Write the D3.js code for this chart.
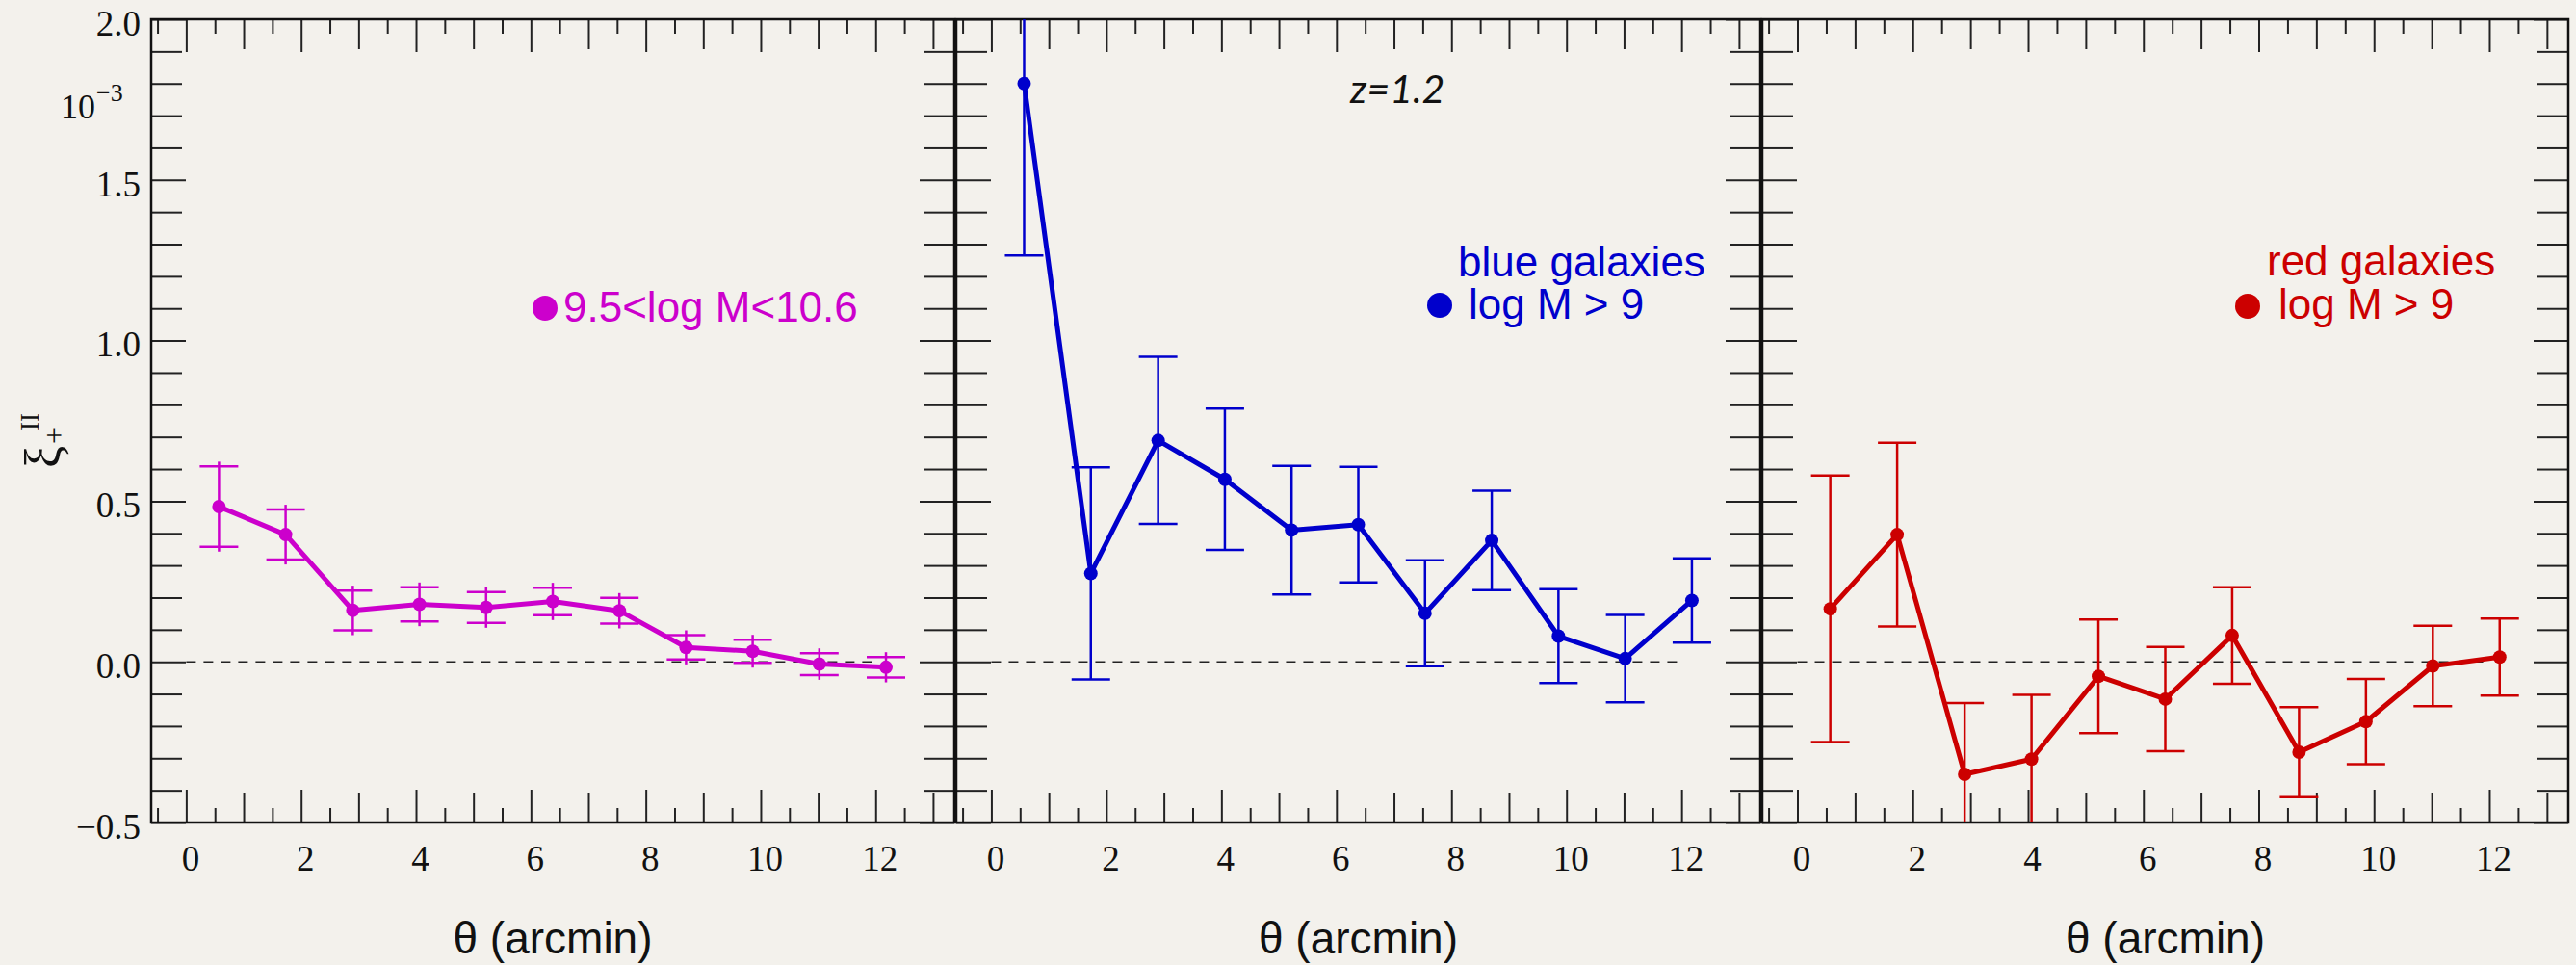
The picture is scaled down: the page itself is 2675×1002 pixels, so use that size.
<!DOCTYPE html>
<html><head><meta charset="utf-8">
<script src="https://cdn.jsdelivr.net/npm/d3@7"></script>
<style>html,body{margin:0;padding:0;background:#f3f1ec;} svg{display:block;}</style>
</head><body><svg id="c" width="2675" height="1002"></svg>
<script>
// ---------- data ----------
const theta = [0.57, 1.73, 2.90, 4.06, 5.22, 6.38, 7.54, 8.70, 9.86, 11.02, 12.18];
const xiMid  = [0.483, 0.396, 0.160, 0.179, 0.169, 0.188, 0.159, 0.045, 0.033, -0.007, -0.017];
const errMid = [0.125, 0.078, 0.062, 0.053, 0.048, 0.043, 0.040, 0.038, 0.036, 0.034, 0.032];
const xiBlue  = [1.80, 0.275, 0.689, 0.568, 0.410, 0.427, 0.151, 0.378, 0.080, 0.010, 0.191];
const errBlue = [0.535, 0.330, 0.260, 0.220, 0.200, 0.180, 0.165, 0.155, 0.146, 0.136, 0.131];
const xiRed  = [0.165, 0.396, -0.350, -0.303, -0.045, -0.116, 0.082, -0.281, -0.186, -0.013, 0.015];
const errRed = [0.415, 0.286, 0.222, 0.200, 0.177, 0.162, 0.150, 0.140, 0.133, 0.125, 0.120];
const xTickLabels = [0, 2, 4, 6, 8, 10, 12];
const yTickLabels = [-0.5, 0.0, 0.5, 1.0, 1.5, 2.0];
const legendMid  = ["9.5<log M<10.6"];
const legendBlue = ["blue galaxies", "log M > 9"];
const legendRed  = ["red galaxies", "log M > 9"];
const xTitle = "θ (arcmin)";
const redshiftLabel = "z=1.2";

// ---------- layout ----------
const svg = d3.select("#c");
svg.append("rect").attr("width", 2675).attr("height", 1002).attr("fill", "#f3f1ec");
const TOP = 20, BOTTOM = 854;
const y = d3.scaleLinear().domain([-0.5, 2.0]).range([BOTTOM, TOP]);
const xDomain = [-0.61, 13.37];

const panels = [
  {values: xiMid, errors: errMid, color: "#cc00cc", l: 157, r: 991, ext: 5,
   legend: legendMid, legendLayout: {dot: [566, 320], lines: [[585, 334]]}},
  {values: xiBlue, errors: errBlue, color: "#0000cc", l: 993, r: 1828, ext: 0,
   legend: legendBlue, legendLayout: {dot: [1495, 317], lines: [[1514, 287], [1525, 331]]}},
  {values: xiRed, errors: errRed, color: "#cc0000", l: 1830, r: 2667, ext: 0,
   legend: legendRed, legendLayout: {dot: [2334, 318], lines: [[2354, 286], [2366, 331]]}}
];

const halfTicks = d3.range(-1, 27).map(k => k / 2).filter(v => v % 1 !== 0 && v <= 13.3);
const oddTicks = d3.range(1, 14, 2);
const evenTicks = d3.range(0, 14, 2);
const yMinor = d3.range(-5, 21).filter(k => k % 5 !== 0).map(k => k / 10);
const yMajor = d3.range(-5, 21, 5).map(k => k / 10);

function styleTicks(sel) {
  sel.select(".domain").remove();
  sel.selectAll(".tick line").attr("stroke", "#222").attr("stroke-width", 2);
  sel.selectAll(".tick text").remove();
}

const fmtY = v => (v < 0 ? "\u2212" : "") + Math.abs(v).toFixed(1);

panels.forEach((p, i) => {
  const x = d3.scaleLinear().domain(xDomain).range([p.l, p.r]);
  const g = svg.append("g");
  const clipId = "clip" + i;
  svg.append("clipPath").attr("id", clipId).append("rect")
    .attr("x", p.l).attr("y", TOP).attr("width", p.r - p.l).attr("height", BOTTOM - TOP);

  // zero dashed line
  g.append("line").attr("x1", x(0)).attr("x2", x(12)).attr("y1", y(0)).attr("y2", y(0))
    .attr("stroke", "#222").attr("stroke-width", 1.6).attr("stroke-dasharray", "10,8");

  // x ticks (bottom and top, pointing inward)
  [[halfTicks, 15], [oddTicks, 31], [evenTicks, 34]].forEach(([vals, len]) => {
    g.append("g").attr("transform", `translate(0,${BOTTOM})`)
      .call(d3.axisBottom(x).tickValues(vals).tickSize(-len).tickFormat("")).call(styleTicks);
    g.append("g").attr("transform", `translate(0,${TOP})`)
      .call(d3.axisTop(x).tickValues(vals).tickSize(-len).tickFormat("")).call(styleTicks);
  });
  // y ticks (left and right, pointing inward)
  [[yMinor, 32], [yMajor, 36]].forEach(([vals, len]) => {
    g.append("g").attr("transform", `translate(${p.l},0)`)
      .call(d3.axisLeft(y).tickValues(vals).tickSize(-len).tickFormat("")).call(styleTicks);
    g.append("g").attr("transform", `translate(${p.r},0)`)
      .call(d3.axisRight(y).tickValues(vals).tickSize(-len).tickFormat("")).call(styleTicks);
  });

  // x tick labels
  const xl = g.append("g").attr("transform", `translate(0,${BOTTOM})`)
    .call(d3.axisBottom(x).tickValues(xTickLabels).tickSize(0).tickPadding(24).tickFormat(d3.format("d")));
  xl.select(".domain").remove();
  xl.selectAll("text").attr("font-family", "'Liberation Serif', 'Times New Roman', serif")
    .attr("font-size", 37).attr("fill", "#111").attr("dx", 4);

  // y tick labels (first panel only)
  if (i === 0) {
    const yl = g.append("g").attr("transform", `translate(${p.l},0)`)
      .call(d3.axisLeft(y).tickValues(yTickLabels).tickSize(0).tickPadding(11).tickFormat(fmtY));
    yl.select(".domain").remove();
    yl.selectAll("text").attr("font-family", "'Liberation Serif', 'Times New Roman', serif")
      .attr("font-size", 37).attr("fill", "#111").attr("dy", "0.44em");
  }

  // x title
  g.append("text").attr("x", (p.l + p.r) / 2).attr("y", 990).attr("text-anchor", "middle")
    .attr("font-family", "'Liberation Sans', Arial, sans-serif").attr("font-size", 46)
    .attr("fill", "#111").text(xTitle);

  // border
  g.append("rect").attr("x", p.l).attr("y", TOP).attr("width", p.r - p.l).attr("height", BOTTOM - TOP)
    .attr("fill", "none").attr("stroke", "#111").attr("stroke-width", 2.5);

  // data
  const dg = g.append("g").attr("clip-path", `url(#${clipId})`);
  const pts = theta.map((t, k) => ({t, v: p.values[k], e: p.errors[k]}));
  const eb = dg.selectAll("g.eb").data(pts).join("g").attr("class", "eb")
    .attr("stroke", p.color).attr("stroke-width", 2.5);
  eb.append("line").attr("x1", d => x(d.t)).attr("x2", d => x(d.t))
    .attr("y1", d => y(d.v + d.e) - p.ext).attr("y2", d => y(d.v - d.e) + p.ext);
  eb.append("line").attr("x1", d => x(d.t) - 20).attr("x2", d => x(d.t) + 20)
    .attr("y1", d => y(d.v + d.e)).attr("y2", d => y(d.v + d.e));
  eb.append("line").attr("x1", d => x(d.t) - 20).attr("x2", d => x(d.t) + 20)
    .attr("y1", d => y(d.v - d.e)).attr("y2", d => y(d.v - d.e));

  dg.append("path").datum(pts)
    .attr("d", d3.line().x(d => x(d.t)).y(d => y(d.v)))
    .attr("fill", "none").attr("stroke", p.color).attr("stroke-width", 5)
    .attr("stroke-linejoin", "round");
  dg.selectAll("circle").data(pts).join("circle")
    .attr("cx", d => x(d.t)).attr("cy", d => y(d.v)).attr("r", 7).attr("fill", p.color);

  // legend
  g.append("circle").attr("cx", p.legendLayout.dot[0]).attr("cy", p.legendLayout.dot[1])
    .attr("r", 13).attr("fill", p.color);
  p.legend.forEach((txt, k) => {
    g.append("text").attr("x", p.legendLayout.lines[k][0]).attr("y", p.legendLayout.lines[k][1])
      .attr("font-family", "'Liberation Sans', Arial, sans-serif").attr("font-size", 44)
      .attr("fill", p.color).text(txt);
  });
});

// 10^-3 multiplier
const mult = svg.append("text").attr("font-family", "'Liberation Serif', 'Times New Roman', serif")
  .attr("fill", "#111");
mult.append("tspan").attr("x", 63).attr("y", 123).attr("font-size", 36).text("10");
mult.append("tspan").attr("x", 100).attr("y", 105).attr("font-size", 26).text("\u22123");

// redshift label
svg.append("text").attr("x", 1402).attr("y", 107)
  .attr("font-family", "Lato, 'Liberation Sans', sans-serif").attr("font-style", "italic")
  .attr("font-size", 41).attr("fill", "#111").text(redshiftLabel);

// y-axis title  ξ_+^II
const yt = svg.append("g").attr("transform", "translate(62,486) rotate(-90)")
  .attr("font-family", "'Liberation Serif', 'Times New Roman', serif").attr("fill", "#111");
yt.append("text").attr("x", 0).attr("y", 0).attr("font-size", 52).text("ξ");
yt.append("text").attr("x", 25).attr("y", 5).attr("font-size", 32).text("+");
yt.append("text").attr("x", 39).attr("y", -22).attr("font-size", 27).text("II");
</script></body></html>
